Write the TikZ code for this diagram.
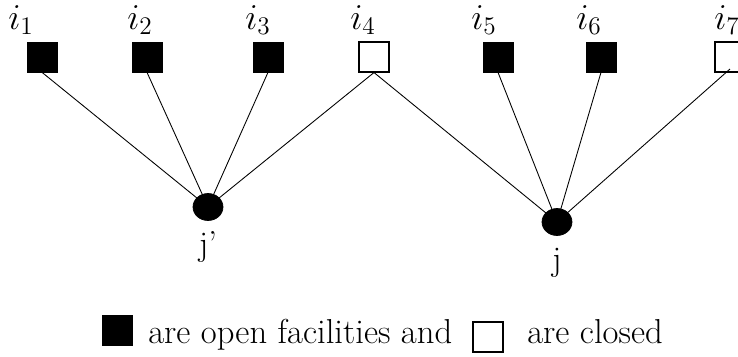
\documentclass[tikz,border=0pt]{standalone}
\usepackage{tikz}
\usepackage{amsmath}
\usetikzlibrary{positioning, shapes.geometric}
\tikzset{
  openfac/.style={
    draw=black, fill=black,
    minimum size=0.6cm,
    inner sep=0pt
  },
  closedfac/.style={
    openfac, fill=white, line width=0.6pt
  },
  client/.style={
    ellipse, draw=black, fill=black,
    minimum width=0.6cm,
    minimum height=0.54cm,
    inner sep=0pt
  },
  facname/.style={
    font=\fontsize{19.7}{24}\selectfont, inner sep=0pt
  },
  assign/.style={
    line width=0.5pt, draw=black
  }
}

\begin{document}
\begin{tikzpicture}[x=0.02cm, y=-0.02cm, node distance=0.2cm]
  \useasboundingbox (0,0) rectangle (738,356);

  % facilities
  \node[openfac]   (f1) at (42,57)  {};
  \node[openfac]   (f2) at (147,57) {};
  \node[openfac]   (f3) at (268,57) {};
  \node[closedfac] (f4) at (374,57) {};
  \node[openfac]   (f5) at (498,57) {};
  \node[openfac]   (f6) at (601,57) {};
  \node[closedfac] (f7) at (730,57) {};

  \node[facname] (n1) at (21,20)  {$i_1$};
  \node[facname] (n2) at (140,20) {$i_2$};
  \node[facname] (n3) at (258,20) {$i_3$};
  \node[facname] (n4) at (363,20) {$i_4$};
  \node[facname] (n5) at (484,20) {$i_5$};
  \node[facname] (n6) at (589,20) {$i_6$};
  \node[facname] (n7) at (727,20) {$i_7$};

  % clients
  \node[client] (jp) at (208,207) {};
  \node[client] (j)  at (557,222) {};
  \node[facname, below=0.2cm of jp] (jplabel) {j'};
  \node[facname, below=0.24cm of j]  (jlabel)  {j};

  \foreach \f in {f1,f2,f3,f4}
    \draw[assign] (\f.south) -- (jp.center);
  \foreach \f in {f4,f5,f6}
    \draw[assign] (\f.south) -- (j.center);
  \draw[assign] (f7.center) ++(0,12) -- (j.center);

  % legend
  \node[openfac]   (lopen)   at (117,330) {};
  \node[facname, anchor=base west] (ltext1) at (148,343) {are open facilities and};
  \node[closedfac] (lclosed) at (488,337) {};
  \node[facname, anchor=base west] (ltext2) at (527,343) {are closed};
\end{tikzpicture}
\end{document}
